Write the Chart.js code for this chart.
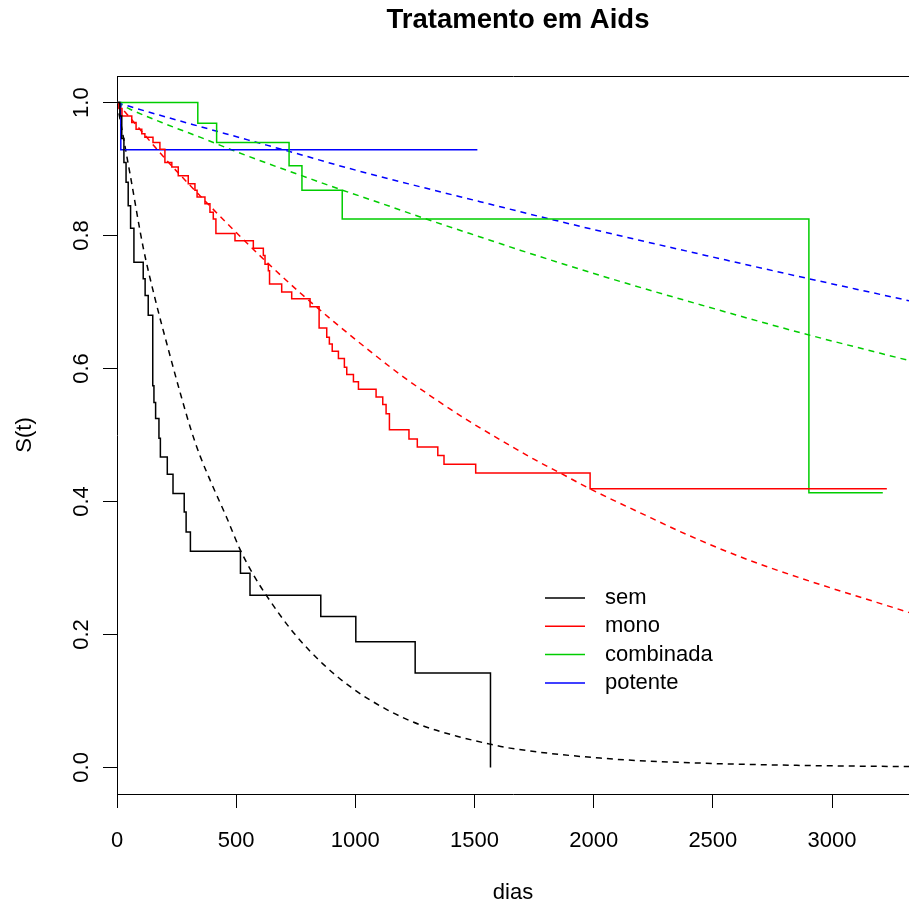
<!DOCTYPE html>
<html>
<head>
<meta charset="utf-8">
<title>Tratamento em Aids</title>
<script src="https://cdn.jsdelivr.net/npm/chart.js@4.4.1/dist/chart.umd.min.js"></script>
<style>
  body { margin: 0; background: #fff; }
  #wrap { width: 909px; height: 906px; }
</style>
</head>
<body>
<div id="wrap"><canvas id="km-chart" width="909" height="906"></canvas></div>
<script>
// ==================================================================
//
// Data (dias, S(t))
//
// ==================================================================

// Kaplan-Meier curves
let semT = [0, 12, 20, 29, 38, 47, 57, 71, 110, 118, 131, 150, 155, 162, 176, 182, 211, 235, 282, 290, 308, 518, 558, 855, 1002, 1251, 1567];
let semS = [1.0, 0.980, 0.946, 0.910, 0.880, 0.845, 0.811, 0.760, 0.735, 0.710, 0.680, 0.574, 0.549, 0.525, 0.495, 0.467, 0.441, 0.412, 0.384, 0.354, 0.325, 0.292, 0.259, 0.227, 0.189, 0.142, 0.0];

let monoT = [0, 8, 21, 62, 80, 104, 117, 151, 180, 201, 230, 257, 299, 327, 336, 369, 390, 404, 415, 495, 572, 614, 621, 635, 640, 691, 733, 810, 848, 880, 891, 903, 929, 954, 964, 992, 1013, 1087, 1115, 1129, 1143, 1225, 1260, 1346, 1372, 1505, 1985, 3230];
let monoS = [1.0, 0.991, 0.980, 0.970, 0.960, 0.953, 0.948, 0.940, 0.930, 0.910, 0.903, 0.890, 0.878, 0.868, 0.858, 0.848, 0.835, 0.825, 0.803, 0.792, 0.781, 0.770, 0.757, 0.747, 0.727, 0.715, 0.705, 0.693, 0.661, 0.647, 0.637, 0.626, 0.615, 0.602, 0.591, 0.580, 0.569, 0.557, 0.546, 0.532, 0.508, 0.494, 0.482, 0.469, 0.456, 0.443, 0.419, 0.419];

let combT = [0, 339, 418, 722, 776, 945, 2903, 3213];
let combS = [1.0, 0.969, 0.940, 0.905, 0.868, 0.825, 0.413, 0.413];

let potT = [0, 16, 1512];
let potS = [1.0, 0.929, 0.929];

// fitted (dashed) curves
let semFitT = [0, 55, 110, 159, 222, 264, 313, 348, 404, 460, 516, 572, 628, 740, 866, 992, 1132, 1272, 1426, 1565, 1649, 2027, 2447, 2866, 3323];
let semFitS = [1.0, 0.892, 0.782, 0.706, 0.620, 0.565, 0.505, 0.469, 0.421, 0.376, 0.328, 0.290, 0.258, 0.203, 0.155, 0.118, 0.087, 0.064, 0.047, 0.035, 0.029, 0.014, 0.0065, 0.003, 0.0012];

let monoFitT = [0, 41, 209, 348, 488, 628, 768, 908, 1048, 1188, 1327, 1467, 1607, 1747, 1859, 1985, 2195, 2405, 2628, 2866, 3323];
let monoFitS = [1.0, 0.983, 0.913, 0.860, 0.809, 0.760, 0.714, 0.671, 0.630, 0.591, 0.556, 0.523, 0.493, 0.464, 0.443, 0.419, 0.383, 0.348, 0.315, 0.285, 0.233];

let combFitT = [0, 55, 209, 348, 488, 628, 768, 908, 1104, 1313, 1565, 1691, 2083, 2447, 2866, 3323];
let combFitS = [1.0, 0.990, 0.967, 0.948, 0.928, 0.909, 0.891, 0.873, 0.849, 0.823, 0.793, 0.778, 0.734, 0.696, 0.654, 0.612];

let potFitT = [0, 55, 209, 348, 488, 628, 768, 964, 1243, 1523, 1803, 2083, 2447, 2866, 3323];
let potFitS = [1.0, 0.994, 0.978, 0.964, 0.950, 0.936, 0.922, 0.902, 0.876, 0.851, 0.826, 0.802, 0.772, 0.738, 0.702];

let groupNames = ["sem", "mono", "combinada", "potente"];
let groupColors = ["#000000", "#FF0000", "#00CD00", "#0000FF"];

let yTicksStep = 0.2;
let titleText = "Tratamento em Aids";

// ==================================================================
//
// Helpers
//
// ==================================================================

const toPoints = (ts, ss) => ts.map((t, i) => ({ x: t, y: ss[i] }));

// KM: horizontal first, then drop at the next time
const kmDataset = (idx, ts, ss) => ({
  label: groupNames[idx],
  data: toPoints(ts, ss),
  borderColor: groupColors[idx],
  borderWidth: 1.5,
  stepped: "before",
  pointRadius: 0,
  fill: false,
});

const fitDataset = (idx, ts, ss) => ({
  label: groupNames[idx] + " (ajuste)",
  data: toPoints(ts, ss),
  borderColor: groupColors[idx],
  borderWidth: 1.5,
  borderDash: [6, 5],
  cubicInterpolationMode: "monotone",
  pointRadius: 0,
  fill: false,
});

const FONT = "'Liberation Sans', Arial, sans-serif";

// top line of the R style box, and the main title centred on the
// (wider than the picture) plot region
const framePlugin = {
  id: "frame",
  afterDraw(chart) {
    const a = chart.chartArea;
    const ctx = chart.ctx;
    ctx.save();
    ctx.strokeStyle = "#000";
    ctx.lineWidth = 1;
    ctx.beginPath();
    ctx.moveTo(a.left, a.top + 0.5);
    ctx.lineTo(a.right + 2, a.top + 0.5);
    ctx.stroke();
    ctx.fillStyle = "#000";
    ctx.font = "bold 27.5px " + FONT;
    ctx.textAlign = "center";
    ctx.textBaseline = "middle";
    ctx.fillText(titleText, (a.left + 919) / 2, 20);
    ctx.restore();
  },
};

// legend inside the plot, lines only, no box
const legendPlugin = {
  id: "kmLegend",
  afterDraw(chart) {
    const ctx = chart.ctx;
    const x0 = 545, x1 = 585, xt = 605, y0 = 598, dy = 28.3;
    ctx.save();
    ctx.font = "22px " + FONT;
    ctx.textBaseline = "middle";
    ctx.textAlign = "left";
    groupNames.forEach((name, i) => {
      const y = y0 + i * dy;
      ctx.strokeStyle = groupColors[i];
      ctx.lineWidth = 1.5;
      ctx.beginPath();
      ctx.moveTo(x0, y);
      ctx.lineTo(x1, y);
      ctx.stroke();
      ctx.fillStyle = "#000";
      ctx.fillText(name, xt, y);
    });
    ctx.restore();
  },
};

// ==================================================================
//
// Chart
//
// ==================================================================

let ctx = document.getElementById("km-chart").getContext("2d");

var kmChart = new Chart(ctx, {
  type: "line",
  data: {
    datasets: [
      kmDataset(0, semT, semS),
      kmDataset(1, monoT, monoS),
      kmDataset(2, combT, combS),
      kmDataset(3, potT, potS),
      fitDataset(0, semFitT, semFitS),
      fitDataset(1, monoFitT, monoFitS),
      fitDataset(2, combFitT, combFitS),
      fitDataset(3, potFitT, potFitS),
    ],
  },
  options: {
    responsive: false,
    animation: false,
    devicePixelRatio: 1,
    layout: { padding: { top: 76, left: 0, right: 0, bottom: 0 } },
    plugins: {
      legend: { display: false },
      tooltip: { enabled: false },
      title: { display: false },
    },
    scales: {
      x: {
        type: "linear",
        min: 0,
        max: 3323,
        afterFit: (scale) => { scale.height = 112; },
        border: { display: true, color: "#000", width: 1 },
        grid: {
          drawOnChartArea: false,
          drawTicks: true,
          tickLength: 14,
          tickColor: "#000",
          color: "#000",
        },
        ticks: {
          includeBounds: false,
          color: "#000",
          padding: 20,
          maxRotation: 0,
          font: { family: FONT, size: 22 },
          callback: (v) => String(v),
        },
        title: {
          display: true,
          text: "dias",
          color: "#000",
          font: { family: FONT, size: 22 },
          padding: { top: 0, bottom: 0 },
        },
      },
      y: {
        type: "linear",
        min: -0.04,
        max: 1.04,
        afterFit: (scale) => { scale.width = 117; },
        border: { display: true, color: "#000", width: 1 },
        grid: {
          drawOnChartArea: false,
          drawTicks: true,
          tickLength: 14,
          tickColor: "#000",
          color: "#000",
        },
        ticks: {
          stepSize: yTicksStep,
          includeBounds: false,
          color: "#000",
          padding: 6,
          minRotation: 90,
          maxRotation: 90,
          crossAlign: "center",
          font: { family: FONT, size: 22 },
          callback: (v) => v.toFixed(1),
        },
        title: {
          display: true,
          text: "S(t)",
          color: "#000",
          font: { family: FONT, size: 22 },
          padding: { top: 12, bottom: 0 },
        },
      },
    },
  },
  plugins: [framePlugin, legendPlugin],
});
</script>
</body>
</html>
